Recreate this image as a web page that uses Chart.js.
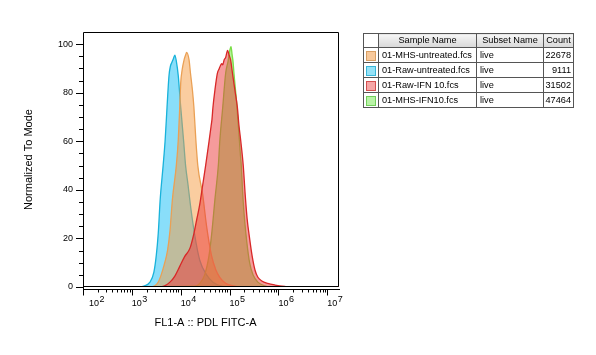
<!DOCTYPE html>
<html>
<head>
<meta charset="utf-8">
<script src="https://cdn.jsdelivr.net/npm/chart.js@4.4.1/dist/chart.umd.min.js"></script>
<style>
html,body{margin:0;padding:0;background:#fff;}
#wrap{position:relative;width:596px;height:355px;overflow:hidden;}
#chart{position:absolute;left:0;top:0;}
#legend{position:absolute;left:363px;top:33px;border-collapse:collapse;table-layout:fixed;width:210px;
  font-family:"Liberation Sans",Arial,sans-serif;font-size:9.2px;color:#000;}
#legend td,#legend th{border:1px solid #555;padding:0 3px;white-space:nowrap;overflow:hidden;font-weight:normal;}
#legend th{height:13px;line-height:13px;background:linear-gradient(#f6f6f6,#d8d8d8);text-align:center;padding:0 1px;}
#legend th.blank{background:#fff;}
#legend td{height:14px;line-height:14px;background:#fff;text-align:left;}
#legend td.sw{text-align:center;padding:0;}
#legend td.num{text-align:right;padding:0 2px 0 0;}
.swatch{display:inline-block;width:8px;height:8px;border:1px solid;vertical-align:middle;}
</style>
</head>
<body>
<div id="wrap">
<canvas id="chart" width="596" height="355"></canvas>
<table id="legend">
<colgroup><col style="width:15px"><col style="width:98px"><col style="width:67px"><col style="width:30px"></colgroup>
<thead><tr><th class="blank"></th><th>Sample Name</th><th>Subset Name</th><th>Count</th></tr></thead>
<tbody id="legendBody"></tbody>
</table>
</div>
<script>
// ---------- data ----------
const sampleNames = ['01-MHS-untreated.fcs', '01-Raw-untreated.fcs', '01-Raw-IFN 10.fcs', '01-MHS-IFN10.fcs'];
const subsetNames = ['live', 'live', 'live', 'live'];
const eventCounts = [22678, 9111, 31502, 47464];

const xTickExponents = [2, 3, 4, 5, 6, 7];
const yTickValues = [0, 20, 40, 60, 80, 100];
const xAxisTitle = 'FL1-A :: PDL FITC-A';
const yAxisTitle = 'Normalized To Mode';

// x positions are log10 of fluorescence, y is % of mode
const mhsUntreatedLogX = [2, 3.37, 3.47, 3.54, 3.60, 3.66, 3.73, 3.78, 3.83, 3.91, 3.95, 3.98, 4.00, 4.03, 4.07, 4.10, 4.12, 4.17, 4.20, 4.24, 4.27, 4.31, 4.35, 4.45, 4.53, 4.63, 4.72, 4.80, 4.92, 5.07, 5.21, 7.24];
const mhsUntreatedY    = [0, 0, 0.5, 2, 5, 9, 15, 23, 36, 50, 60.5, 74, 84, 89.5, 93.6, 95.5, 96.6, 93.6, 88, 81, 74, 60.5, 50, 38, 25, 13, 7, 4, 1.5, 0.5, 0, 0];

const rawUntreatedLogX = [2, 3.16, 3.26, 3.37, 3.45, 3.50, 3.54, 3.58, 3.64, 3.68, 3.72, 3.76, 3.79, 3.82, 3.85, 3.88, 3.91, 3.95, 4.00, 4.06, 4.10, 4.15, 4.21, 4.29, 4.39, 4.53, 4.66, 4.86, 5.11, 7.24];
const rawUntreatedY    = [0, 0, 0.5, 2, 6, 13, 22, 36, 50, 60, 74, 87, 91, 92.5, 94, 95.5, 93, 87, 74, 60, 50, 42, 32, 21, 11, 5, 2, 0.3, 0, 0];

const rawIfnLogX = [2, 3.57, 3.67, 3.78, 3.88, 3.98, 4.08, 4.19, 4.27, 4.33, 4.39, 4.45, 4.51, 4.58, 4.62, 4.64, 4.66, 4.70, 4.75, 4.79, 4.81, 4.84, 4.86, 4.89, 4.92, 4.96, 4.99, 5.02, 5.06, 5.11, 5.16, 5.19, 5.23, 5.28, 5.32, 5.36, 5.41, 5.46, 5.52, 5.58, 5.66, 5.78, 5.93, 6.13, 6.24, 7.24];
const rawIfnY    = [0, 0, 0.5, 2, 4.5, 8.5, 12.5, 16, 22, 28, 34, 42, 50, 60, 66, 69, 74, 81, 88, 90, 91, 92, 91.5, 93.6, 94.5, 97.4, 95.5, 93.6, 88, 81, 74, 67, 60, 50, 38, 28, 20, 13, 7, 4, 2.5, 1.5, 0.8, 0.2, 0, 0];

const mhsIfnLogX = [2, 4.29, 4.39, 4.49, 4.58, 4.64, 4.70, 4.77, 4.80, 4.86, 4.92, 4.97, 5.00, 5.03, 5.05, 5.07, 5.09, 5.14, 5.18, 5.22, 5.24, 5.27, 5.31, 5.35, 5.41, 5.48, 5.58, 5.72, 5.87, 7.24];
const mhsIfnY    = [0, 0.3, 1.5, 5, 13, 23, 36, 50, 60, 74, 88, 93, 97, 99, 96, 93, 88, 77, 66, 55, 50, 38, 27, 19, 10, 5, 2, 0.5, 0, 0];

// ---------- styles ----------
const seriesStyle = [
  {fill: 'rgba(245,155,65,0.5)', line: '#eaa055', swFill: '#f8c99b', swLine: '#d9a064', order: 2},
  {fill: 'rgba(20,190,245,0.5)', line: '#18b2da', swFill: '#95e2f7', swLine: '#3ab6d8', order: 4},
  {fill: 'rgba(235,55,55,0.5)', line: '#d82828', swFill: '#f6a6a6', swLine: '#d45050', order: 1},
  {fill: 'rgba(110,225,50,0.5)', line: '#7ade48', swFill: '#b9f3a6', swLine: '#72cf5c', order: 3}
];
const seriesX = [mhsUntreatedLogX, rawUntreatedLogX, rawIfnLogX, mhsIfnLogX];
const seriesY = [mhsUntreatedY, rawUntreatedY, rawIfnY, mhsIfnY];

const X_MIN_EXP = 2, X_MAX_EXP = 7.24;

// ---------- legend table ----------
const body = document.getElementById('legendBody');
sampleNames.forEach((name, i) => {
  const tr = document.createElement('tr');
  const s = seriesStyle[i];
  tr.innerHTML = '<td class="sw"><span class="swatch" style="background:' + s.swFill + ';border-color:' + s.swLine + '"></span></td>' +
    '<td>' + name + '</td><td>' + subsetNames[i] + '</td><td class="num">' + eventCounts[i] + '</td>';
  body.appendChild(tr);
});

// ---------- axes decoration plugin ----------
const FONT = '"Liberation Sans", Arial, sans-serif';
const axesPlugin = {
  id: 'flowAxes',
  afterDatasetsDraw(chart) {
    const {ctx, chartArea: a, scales: {x, y}} = chart;
    ctx.save();
    ctx.strokeStyle = '#000';
    ctx.lineWidth = 1;
    const L = a.left + 0.5, T = a.top + 0.5, R = a.right - 0.5, B = a.bottom - 0.5;
    const axisY = a.bottom + 2.5;
    ctx.beginPath();
    // plot frame
    ctx.moveTo(L, axisY + 5.5); ctx.lineTo(L, T); ctx.lineTo(R, T); ctx.lineTo(R, B); ctx.lineTo(a.left, B);
    // x axis line
    ctx.moveTo(a.left, axisY); ctx.lineTo(a.right + 1, axisY);
    // x ticks
    for (let e = X_MIN_EXP; e <= 7; e++) {
      for (let k = 1; k <= 9; k++) {
        const v = k * Math.pow(10, e);
        if (v > Math.pow(10, X_MAX_EXP)) break;
        const px = Math.round(x.getPixelForValue(v)) + 0.5;
        ctx.moveTo(px, axisY);
        ctx.lineTo(px, axisY + (k === 1 ? 6 : 3));
      }
    }
    // y ticks
    for (let v = 0; v <= 100; v += 5) {
      const py = Math.round(y.getPixelForValue(v)) + 0.5;
      const len = yTickValues.includes(v) ? 7 : 4;
      ctx.moveTo(a.left - len, py); ctx.lineTo(a.left, py);
    }
    ctx.stroke();

    // x tick labels: 10 with raised exponent
    ctx.fillStyle = '#000';
    ctx.textAlign = 'left';
    ctx.textBaseline = 'alphabetic';
    xTickExponents.forEach((e, i) => {
      const px = x.getPixelForValue(Math.pow(10, e));
      const lx = i === 0 ? px + 6 : px;
      ctx.font = '9px ' + FONT;
      ctx.fillText('10', lx, axisY + 16.5);
      const w = ctx.measureText('10').width;
      ctx.fillText(String(e), lx + w + 0.5, axisY + 12);
    });

    // axis titles
    ctx.font = '11px ' + FONT;
    ctx.textAlign = 'center';
    ctx.textBaseline = 'middle';
    ctx.fillText(xAxisTitle, 205.5, 323);
    ctx.translate(29, (a.top + a.bottom) / 2);
    ctx.rotate(-Math.PI / 2);
    ctx.fillText(yAxisTitle, 0, 0);
    ctx.restore();
  }
};

// ---------- chart ----------
const datasets = sampleNames.map((name, i) => ({
  label: name,
  data: seriesX[i].map((e, j) => ({x: Math.pow(10, e), y: seriesY[i][j]})),
  borderColor: seriesStyle[i].line,
  backgroundColor: seriesStyle[i].fill,
  borderWidth: 1.3,
  fill: 'origin',
  pointRadius: 0,
  tension: 0.35,
  cubicInterpolationMode: 'monotone',
  order: seriesStyle[i].order
}));

new Chart(document.getElementById('chart'), {
  type: 'line',
  data: {datasets},
  options: {
    responsive: false,
    animation: false,
    events: [],
    layout: {padding: {top: 32, right: 257, left: 0, bottom: 0}},
    plugins: {legend: {display: false}, tooltip: {enabled: false}},
    scales: {
      x: {
        type: 'logarithmic',
        min: Math.pow(10, X_MIN_EXP),
        max: Math.pow(10, X_MAX_EXP),
        grid: {display: false, drawTicks: false},
        border: {display: false},
        ticks: {display: false},
        afterBuildTicks: s => { s.ticks = xTickExponents.map(e => ({value: Math.pow(10, e)})); },
        afterFit: s => { s.height = 68; }
      },
      y: {
        type: 'linear',
        min: 0,
        max: 105,
        grid: {display: false, drawTicks: false},
        border: {display: false},
        ticks: {color: '#000', padding: 10, font: {family: FONT, size: 9}},
        afterBuildTicks: s => { s.ticks = yTickValues.map(v => ({value: v})); },
        afterFit: s => { s.width = 83; }
      }
    }
  },
  plugins: [axesPlugin]
});
</script>
</body>
</html>
